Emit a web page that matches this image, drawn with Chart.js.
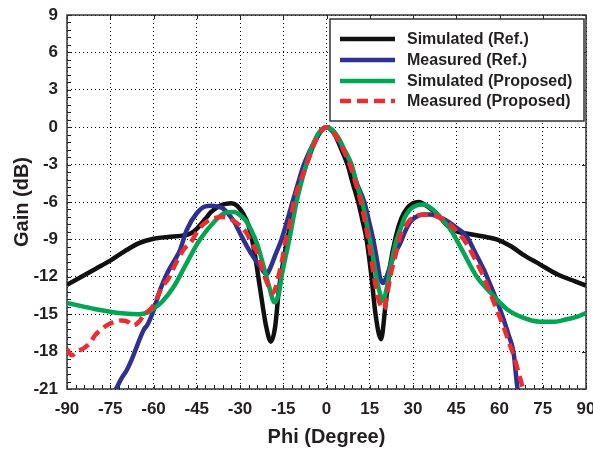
<!DOCTYPE html>
<html>
<head>
<meta charset="utf-8">
<script src="https://cdn.jsdelivr.net/npm/chart.js@4.4.0/dist/chart.umd.min.js"></script>
<style>
  html, body { margin: 0; padding: 0; background: #fff; }
  #wrap { width: 593px; height: 449px; }
</style>
</head>
<body>
<div id="wrap"><canvas id="gainChart" width="593" height="449"></canvas></div>
<script>
// Simulated (Ref.)
const simRefPhi = [-90,-85,-80,-75,-70,-65,-60,-55,-50,-47,-45,-42,-40,-37,-35,-33,-31,-29,-27,-25,-23,-21,-19.3,-17.8,-16.5,-15,-13.6,-12,-10.7,-9,-7,-5,-3,-1.5,0,1.5,3,5,7.3,9,11,12.5,13.9,15.6,17,18.9,20.5,22,24,26,28,30,32,34,37,40,42,45,49,54,59,64,68,74,80,86,90];
const simRefGain = [-12.65,-12.0,-11.35,-10.7,-9.95,-9.3,-8.95,-8.8,-8.7,-8.5,-8.15,-7.35,-6.8,-6.3,-6.15,-6.1,-6.3,-6.9,-7.9,-10.0,-13.0,-15.9,-17.2,-16.0,-13.0,-10.8,-9.0,-7.4,-6.0,-4.4,-3.0,-1.7,-0.7,-0.15,0,-0.15,-0.65,-1.7,-3.0,-4.4,-6.0,-7.5,-9.0,-12.0,-15.0,-17.0,-14.2,-11.2,-8.8,-7.3,-6.5,-6.1,-6.0,-6.2,-6.7,-7.4,-7.9,-8.35,-8.55,-8.75,-9.0,-9.55,-10.2,-11.0,-11.8,-12.35,-12.7];

// Measured (Ref.)
const measRefPhi = [-75,-73,-71,-69.3,-67.5,-65.8,-63.5,-62,-60,-57.7,-55,-52,-50.8,-48.5,-45,-42,-40,-38,-36,-34.6,-32,-30,-27.5,-25.4,-23,-20.8,-19.5,-18,-15.6,-13.5,-11.8,-10,-8,-6,-4,-2,0,2,4,6,8.5,10.5,13.1,14.7,16.2,17.4,18.5,19.6,20.8,22,24,25.6,27.2,29,31,33.7,36,38.3,40.5,43,45,47.6,49.5,51,53,54.5,56.2,58,59.7,61.4,63.2,64.9,66.1,67];
const measRefGain = [-22,-21,-20.1,-19.5,-18.6,-17.6,-16.3,-15.8,-14.7,-13.05,-11.6,-10.4,-9.85,-8.25,-6.9,-6.35,-6.3,-6.35,-6.5,-6.8,-7.6,-8.5,-9.6,-10.4,-11.2,-11.8,-11.3,-10.4,-9.0,-7.4,-6.0,-4.6,-3.1,-2.0,-1.1,-0.35,0,-0.3,-1.0,-1.9,-3.0,-4.5,-6.0,-7.5,-9.0,-10.5,-12.0,-12.5,-12.0,-11.2,-10.0,-9.3,-8.4,-7.6,-7.2,-7.0,-7.0,-7.15,-7.35,-7.7,-8.05,-8.5,-9.1,-9.8,-10.7,-11.4,-12.3,-13.3,-14.3,-15.4,-16.7,-18.1,-20.7,-22];

// Simulated (Proposed)
const simPropPhi = [-90,-85,-80,-75,-70,-65,-62,-60,-57,-53,-48.5,-44,-39,-35,-32,-30,-28,-26,-24,-22,-20,-18,-16.5,-15.6,-14,-12.9,-10.4,-8,-6,-4,-2,0,2,4,6,8.7,10.5,12.4,14,15,16,17.3,18.5,19.6,20.8,22,24,25.6,27,29,31,33.7,36,38.3,40.5,43,47.6,52,57,62.6,68.4,74,79,83.4,87,90];
const simPropGain = [-14.1,-14.35,-14.6,-14.8,-14.95,-15.0,-14.85,-14.55,-14.0,-12.8,-10.9,-9.05,-7.6,-6.85,-6.8,-7.05,-7.5,-8.3,-9.4,-11.0,-12.7,-14.05,-13.3,-12.0,-10.2,-9.0,-6.0,-3.8,-2.2,-1.0,-0.25,0,-0.2,-0.8,-1.7,-3.0,-4.6,-6.0,-7.8,-9.0,-10.2,-12.0,-13.3,-13.95,-13.0,-11.5,-9.3,-8.2,-7.3,-6.6,-6.3,-6.2,-6.45,-6.9,-7.5,-8.2,-10.1,-11.95,-13.3,-14.6,-15.3,-15.6,-15.6,-15.4,-15.2,-14.9];

// Measured (Proposed)
const measPropPhi = [-90,-88.4,-86.5,-84,-82,-80.3,-78,-76.2,-73.5,-71,-69,-67,-65,-63.5,-60,-57,-55,-52,-49.5,-47.3,-44,-41,-39,-36,-33,-30,-27.7,-25.5,-24,-22,-20,-18.7,-17.7,-16.7,-15.5,-14.1,-12.5,-11.3,-9,-6.9,-4,-2,0,2,4,6,8.1,10,11.9,13.3,14.5,15.5,16.5,18,20,21,22.1,24,25.6,27.5,29.1,31.5,33.7,36,38.3,40.5,42.9,45,47.6,50,52.2,54.5,56.8,59,61.4,63.2,64.9,66.5,67.8,69];
const measPropGain = [-17.8,-18.3,-18.0,-17.7,-17.3,-16.7,-16.2,-15.9,-15.6,-15.5,-15.6,-15.9,-15.6,-15.1,-14.3,-12.8,-12.2,-10.8,-9.8,-9.3,-8.1,-7.5,-7.3,-7.2,-7.4,-7.9,-8.5,-9.5,-10.1,-11.6,-12.8,-13.3,-12.9,-12.0,-10.8,-9.0,-7.5,-6.0,-4.3,-3.0,-1.2,-0.35,0,-0.3,-1.0,-1.9,-3.0,-4.4,-6.0,-7.5,-9.0,-10.5,-12.0,-13.8,-14.6,-13.5,-12.0,-10.2,-8.7,-7.9,-7.4,-7.1,-7.0,-7.0,-7.15,-7.4,-7.8,-8.3,-9.0,-9.9,-10.9,-12.0,-13.3,-14.6,-16.0,-17.2,-18.3,-19.6,-20.7,-22];

const seriesNames = ['Simulated (Ref.)', 'Measured (Ref.)', 'Simulated (Proposed)', 'Measured (Proposed)'];
const phiTicks = [-90, -75, -60, -45, -30, -15, 0, 15, 30, 45, 60, 75, 90];
const gainTicks = [9, 6, 3, 0, -3, -6, -9, -12, -15, -18, -21];

const FONT = '"Liberation Sans", Arial, Helvetica, sans-serif';
const TXT = '#231f20';

const toPoints = (xs, ys) => xs.map((x, i) => ({ x: x, y: ys[i] }));

function lineSet(label, xs, ys, color, order, dash) {
  return {
    label: label,
    data: toPoints(xs, ys),
    borderColor: color,
    backgroundColor: color,
    borderWidth: 4.5,
    borderDash: dash || [],
    pointRadius: 0,
    cubicInterpolationMode: 'monotone',
    fill: false,
    clip: 0,
    order: order
  };
}

// frame + inward tick marks
const framePlugin = {
  id: 'frame',
  beforeDatasetsDraw(chart) {
    const { ctx, chartArea: a, scales: { x, y } } = chart;
    ctx.save();
    ctx.strokeStyle = '#222';
    ctx.lineWidth = 1;
    ctx.beginPath();
    for (let p = -90; p <= 90; p += 3) {
      const px = Math.round(x.getPixelForValue(p)) + 0.5;
      ctx.moveTo(px, a.bottom);
      ctx.lineTo(px, a.bottom - 4);
      if (p % 15 === 0) {
        ctx.moveTo(px, a.top);
        ctx.lineTo(px, a.top + 4);
      }
    }
    for (let i = 0; i <= 50; i++) {
      const g = -21 + i * 0.6;
      const py = Math.round(y.getPixelForValue(g)) + 0.5;
      ctx.moveTo(a.left, py);
      ctx.lineTo(a.left + 4, py);
      if (i % 5 === 0) {
        ctx.moveTo(a.right, py);
        ctx.lineTo(a.right - 4, py);
      }
    }
    ctx.stroke();
    ctx.lineWidth = 1.5;
    ctx.strokeStyle = '#333';
    ctx.strokeRect(a.left, a.top, a.right - a.left, a.bottom - a.top);
    ctx.restore();
  }
};

// legend box inside the plot, upper right
const legendBoxPlugin = {
  id: 'legendBox',
  afterDraw(chart) {
    const { ctx } = chart;
    const bx = 330, by = 19, bw = 254, bh = 102;
    ctx.save();
    ctx.fillStyle = '#fff';
    ctx.fillRect(bx, by, bw, bh);
    ctx.strokeStyle = '#333';
    ctx.lineWidth = 1.5;
    ctx.strokeRect(bx, by, bw, bh);
    const rows = [39, 60, 81, 101];
    seriesNames.forEach((name, i) => {
      const ds = chart.data.datasets.find(d => d.label === name);
      ctx.strokeStyle = ds.borderColor;
      ctx.lineWidth = 4.5;
      ctx.setLineDash(ds.borderDash);
      ctx.beginPath();
      ctx.moveTo(340, rows[i]);
      ctx.lineTo(395, rows[i]);
      ctx.stroke();
      ctx.setLineDash([]);
      ctx.fillStyle = TXT;
      ctx.font = 'bold 16px ' + FONT;
      ctx.textBaseline = 'middle';
      ctx.fillText(name, 407, rows[i] + 1);
    });
    ctx.restore();
  }
};

new Chart(document.getElementById('gainChart'), {
  type: 'line',
  data: {
    datasets: [
      lineSet(seriesNames[0], simRefPhi, simRefGain, '#111111', 3),
      lineSet(seriesNames[1], measRefPhi, measRefGain, '#2e3192', 2),
      lineSet(seriesNames[2], simPropPhi, simPropGain, '#00a651', 1),
      lineSet(seriesNames[3], measPropPhi, measPropGain, '#ee2b2f', 0, [11, 6])
    ]
  },
  options: {
    responsive: false,
    animation: false,
    layout: { padding: { top: 15, right: 7, left: 0, bottom: 0 } },
    plugins: {
      legend: { display: false },
      tooltip: { enabled: false }
    },
    scales: {
      x: {
        type: 'linear',
        min: -90,
        max: 90,
        afterFit: (s) => { s.height = 60; s.paddingLeft = 0; s.paddingRight = 0; },
        afterBuildTicks: (s) => { s.ticks = phiTicks.map(v => ({ value: v })); },
        ticks: {
          font: { family: FONT, size: 17, weight: 'bold' },
          color: TXT,
          padding: 10,
          maxRotation: 0,
          autoSkip: false
        },
        grid: { color: '#000', lineWidth: 1, drawTicks: false },
        border: { display: false, dash: [1, 3] },
        title: {
          display: true,
          text: 'Phi (Degree)',
          font: { family: FONT, size: 20, weight: 'bold' },
          color: TXT,
          padding: { top: 0, bottom: 0 }
        }
      },
      y: {
        min: -21,
        max: 9,
        afterFit: (s) => { s.width = 67; s.paddingTop = 0; s.paddingBottom = 0; },
        afterBuildTicks: (s) => { s.ticks = gainTicks.map(v => ({ value: v })); },
        ticks: {
          font: { family: FONT, size: 17, weight: 'bold' },
          color: TXT,
          padding: 9,
          autoSkip: false
        },
        grid: { color: '#000', lineWidth: 1, drawTicks: false },
        border: { display: false, dash: [1, 3] },
        title: {
          display: true,
          text: 'Gain (dB)',
          font: { family: FONT, size: 20, weight: 'bold' },
          color: TXT,
          padding: { top: 10, bottom: 0 }
        }
      }
    }
  },
  plugins: [framePlugin, legendBoxPlugin]
});
</script>
</body>
</html>
